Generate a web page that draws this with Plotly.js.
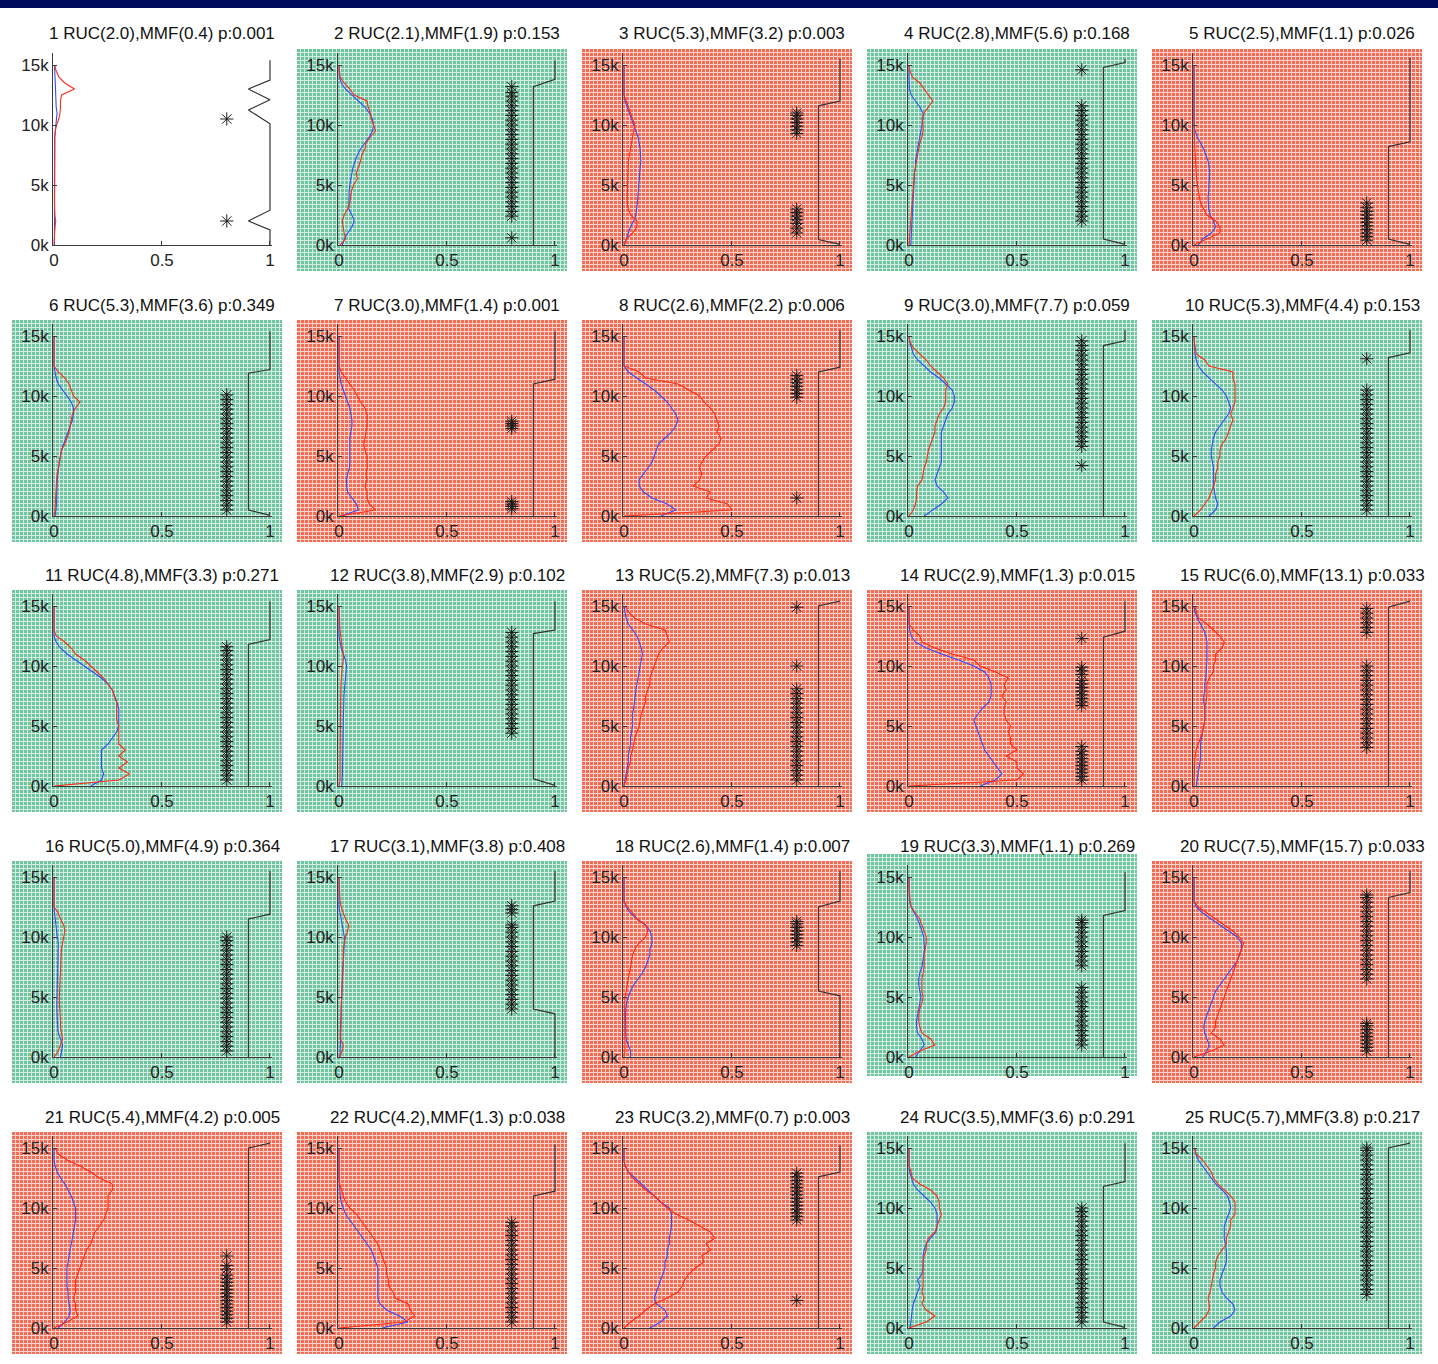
<!DOCTYPE html>
<html><head><meta charset="utf-8">
<script src="https://cdn.plot.ly/plotly-3.0.1.min.js"></script>
<style>html,body{margin:0;padding:0;background:#fff}#chart{width:1438px;height:1364px}</style>
</head><body><div id="chart"></div><script>
// ---------- data ----------
const Y = [0,0.5,1,1.5,2,2.5,3,3.5,4,4.5,5,5.5,6,6.5,7,7.5,8,8.5,9,9.5,10,10.5,11,11.5,12,12.5,13,13.5,14,14.5,15];
const ruc = [2.0,2.1,5.3,2.8,2.5,5.3,3.0,2.6,3.0,5.3,4.8,3.8,5.2,2.9,6.0,5.0,3.1,2.6,3.3,7.5,5.4,4.2,3.2,3.5,5.7];
const mmf = [0.4,1.9,3.2,5.6,1.1,3.6,1.4,2.2,7.7,4.4,3.3,2.9,7.3,1.3,13.1,4.9,3.8,1.4,1.1,15.7,4.2,1.3,0.7,3.6,3.8];
const pval = [0.001,0.153,0.003,0.168,0.026,0.349,0.001,0.006,0.059,0.153,0.271,0.102,0.013,0.015,0.033,0.364,0.408,0.007,0.269,0.033,0.005,0.038,0.003,0.291,0.217];
const bgKind = ['none','green','red','green','red','green','red','red','green','green','green','green','red','red','red','green','green','red','green','red','red','red','red','green','green'];
const xTickVals = [0,0.5,1], xTickText = ['0','0.5','1'];
const yTickVals = [0,5,10,15], yTickText = ['0k','5k','10k','15k'];

const RED = [
 [0,0.003,0.003,0.005,0.008,0.004,0.002,0.002,0.002,0.002,0.002,0.002,0.002,0.002,0.002,0.002,0.002,0.002,0.003,0.006,0.012,0.022,0.028,0.03,0.03,0.035,0.095,0.05,0.022,0.01,0.003],
 [0.005,0.03,0.024,0.02,0.015,0.024,0.04,0.05,0.055,0.058,0.067,0.085,0.08,0.09,0.1,0.105,0.12,0.125,0.145,0.17,0.16,0.15,0.145,0.135,0.13,0.07,0.05,0.024,0.005,0.003,0],
 [0,0.01,0.04,0.06,0.06,0.03,0.02,0.015,0.015,0.015,0.018,0.018,0.018,0.02,0.02,0.025,0.03,0.035,0.04,0.045,0.05,0.04,0.03,0.02,0.01,0,0,0,0,0,0],
 [0,0.003,0.005,0.006,0.008,0.01,0.012,0.015,0.018,0.02,0.02,0.022,0.025,0.03,0.035,0.04,0.045,0.05,0.06,0.065,0.065,0.06,0.07,0.09,0.11,0.09,0.07,0.05,0.015,0.005,0],
 [0,0.06,0.12,0.12,0.1,0.06,0.045,0.03,0.025,0.02,0.015,0.012,0.01,0.008,0.007,0.006,0.005,0.003,0.002,0,0,0,0,0,0,0,0,0,0,0,0],
 [0,0.005,0.006,0.007,0.008,0.01,0.012,0.015,0.02,0.025,0.03,0.035,0.05,0.06,0.07,0.075,0.08,0.085,0.1,0.12,0.09,0.08,0.07,0.05,0.02,0,0,0,0,0,0],
 [0,0.17,0.14,0.13,0.13,0.12,0.13,0.125,0.13,0.13,0.13,0.12,0.115,0.12,0.125,0.13,0.13,0.13,0.12,0.1,0.085,0.07,0.05,0.03,0.01,0,0,0,0,0,0],
 [0,0.5,0.48,0.38,0.4,0.32,0.35,0.36,0.35,0.36,0.38,0.41,0.44,0.45,0.43,0.44,0.43,0.42,0.4,0.37,0.35,0.3,0.25,0.1,0.07,0,0,0,0,0,0],
 [0,0.02,0.03,0.035,0.035,0.04,0.06,0.065,0.07,0.08,0.085,0.09,0.1,0.11,0.12,0.12,0.13,0.14,0.16,0.17,0.17,0.17,0.18,0.16,0.13,0.1,0.08,0.05,0.02,0.005,0],
 [0,0.03,0.05,0.07,0.08,0.09,0.1,0.1,0.11,0.11,0.12,0.12,0.13,0.15,0.16,0.17,0.18,0.17,0.18,0.19,0.19,0.19,0.19,0.18,0.18,0.07,0.05,0.01,0.005,0.002,0],
 [0,0.3,0.35,0.3,0.34,0.3,0.33,0.3,0.3,0.3,0.3,0.29,0.29,0.29,0.29,0.28,0.27,0.25,0.23,0.2,0.17,0.14,0.1,0.08,0.05,0.01,0,0,0,0,0],
 [0,0.005,0.005,0.005,0.005,0.006,0.006,0.006,0.007,0.007,0.007,0.007,0.008,0.008,0.008,0.008,0.008,0.009,0.01,0.012,0.015,0.02,0.02,0.015,0.01,0.008,0.005,0.004,0.003,0.001,0],
 [0,0.01,0.015,0.02,0.03,0.03,0.04,0.045,0.05,0.06,0.07,0.075,0.08,0.09,0.1,0.1,0.11,0.12,0.12,0.13,0.14,0.15,0.16,0.18,0.21,0.2,0.19,0.1,0.05,0.02,0.005],
 [0,0.5,0.53,0.5,0.5,0.45,0.5,0.47,0.47,0.46,0.47,0.45,0.44,0.44,0.45,0.43,0.45,0.44,0.46,0.4,0.33,0.3,0.2,0.12,0.06,0.05,0.02,0,0,0,0],
 [0,0.002,0.002,0.002,0.003,0.005,0.01,0.02,0.03,0.04,0.045,0.05,0.05,0.05,0.055,0.06,0.06,0.06,0.07,0.09,0.09,0.1,0.1,0.13,0.14,0.12,0.09,0.06,0.02,0.01,0.003],
 [0,0.02,0.03,0.04,0.035,0.03,0.03,0.028,0.025,0.025,0.025,0.025,0.025,0.028,0.03,0.03,0.03,0.033,0.035,0.04,0.045,0.05,0.045,0.03,0.02,0,0,0,0,0,0],
 [0,0.015,0.02,0.006,0.006,0.007,0.008,0.009,0.01,0.01,0.01,0.011,0.012,0.013,0.015,0.017,0.02,0.02,0.02,0.025,0.03,0.04,0.045,0.03,0.02,0.01,0.005,0.004,0.003,0.001,0],
 [0,0.005,0.005,0.004,0.003,0.003,0.003,0.003,0.003,0.004,0.005,0.01,0.015,0.02,0.025,0.03,0.035,0.04,0.05,0.07,0.1,0.11,0.1,0.06,0.04,0.015,0,0,0,0,0],
 [0,0.05,0.12,0.1,0.06,0.05,0.045,0.045,0.05,0.06,0.065,0.06,0.06,0.06,0.065,0.07,0.07,0.07,0.075,0.08,0.08,0.07,0.06,0.05,0.03,0.01,0.005,0.003,0,0,0],
 [0,0.08,0.14,0.12,0.08,0.1,0.1,0.11,0.12,0.13,0.14,0.15,0.16,0.17,0.18,0.19,0.2,0.21,0.22,0.23,0.21,0.18,0.14,0.1,0.06,0.02,0,0,0,0,0],
 [0,0.06,0.11,0.1,0.1,0.09,0.1,0.1,0.1,0.11,0.12,0.13,0.14,0.15,0.17,0.18,0.19,0.21,0.23,0.24,0.25,0.25,0.25,0.27,0.27,0.21,0.17,0.12,0.06,0.02,0.005],
 [0,0.3,0.35,0.33,0.32,0.26,0.25,0.23,0.23,0.22,0.22,0.21,0.2,0.19,0.18,0.16,0.14,0.12,0.1,0.08,0.05,0.03,0.02,0.01,0.003,0,0,0,0,0,0],
 [0,0.03,0.07,0.1,0.14,0.2,0.25,0.27,0.28,0.3,0.33,0.37,0.36,0.4,0.38,0.42,0.4,0.35,0.3,0.24,0.2,0.17,0.14,0.1,0.07,0.04,0.02,0.005,0,0,0],
 [0,0.08,0.12,0.08,0.06,0.07,0.06,0.065,0.065,0.065,0.065,0.065,0.07,0.08,0.08,0.09,0.12,0.13,0.14,0.15,0.14,0.14,0.13,0.1,0.05,0.015,0.01,0,0,0,0],
 [0,0.03,0.055,0.07,0.07,0.065,0.075,0.08,0.085,0.09,0.1,0.1,0.11,0.13,0.15,0.15,0.16,0.17,0.17,0.19,0.19,0.19,0.17,0.14,0.11,0.09,0.08,0.06,0.04,0.01,0.003]
];

const BLUE = [
 [0.002,0.002,0.003,0.003,0.005,0.003,0.002,0.002,0.002,0.002,0.002,0.002,0.002,0.002,0.002,0.002,0.002,0.002,0.004,0.006,0.008,0.012,0.014,0.01,0.008,0.008,0.007,0.006,0.005,0.004,0.002],
 [0.015,0.025,0.04,0.06,0.07,0.06,0.045,0.045,0.047,0.047,0.05,0.055,0.06,0.065,0.075,0.085,0.1,0.12,0.14,0.155,0.16,0.155,0.14,0.12,0.09,0.06,0.03,0.01,0.003,0,0],
 [0.002,0.01,0.02,0.03,0.045,0.055,0.06,0.062,0.064,0.066,0.068,0.068,0.07,0.075,0.078,0.078,0.075,0.07,0.065,0.055,0.045,0.035,0.025,0.015,0.005,0,0,0,0,0,0],
 [0.008,0.01,0.012,0.013,0.015,0.016,0.017,0.018,0.02,0.02,0.025,0.025,0.025,0.03,0.03,0.035,0.04,0.045,0.05,0.055,0.06,0.065,0.065,0.05,0.03,0.01,0.002,0,0,0,0],
 [0.02,0.04,0.08,0.1,0.09,0.075,0.068,0.065,0.065,0.068,0.07,0.072,0.072,0.07,0.065,0.055,0.045,0.03,0.015,0.005,0,0,0,0,0,0,0,0,0,0,0],
 [0.005,0.01,0.012,0.012,0.012,0.013,0.015,0.018,0.02,0.025,0.03,0.035,0.045,0.055,0.065,0.075,0.085,0.09,0.09,0.08,0.06,0.04,0.02,0.01,0.005,0,0,0,0,0,0],
 [0.01,0.09,0.08,0.06,0.04,0.035,0.035,0.04,0.048,0.05,0.05,0.05,0.048,0.05,0.055,0.06,0.06,0.055,0.05,0.04,0.03,0.02,0.01,0.005,0,0,0,0,0,0,0],
 [0.17,0.24,0.2,0.13,0.09,0.07,0.07,0.09,0.11,0.13,0.14,0.15,0.16,0.19,0.22,0.24,0.25,0.24,0.22,0.2,0.17,0.14,0.1,0.06,0.02,0,0,0,0,0,0],
 [0.07,0.11,0.15,0.18,0.16,0.13,0.12,0.13,0.14,0.15,0.15,0.15,0.15,0.15,0.15,0.16,0.17,0.18,0.2,0.21,0.21,0.2,0.17,0.14,0.1,0.07,0.04,0.02,0.01,0.003,0],
 [0.07,0.1,0.11,0.1,0.095,0.09,0.09,0.09,0.09,0.085,0.08,0.08,0.085,0.09,0.1,0.12,0.14,0.16,0.17,0.16,0.15,0.13,0.1,0.07,0.04,0.02,0.01,0.005,0.003,0,0],
 [0.17,0.22,0.23,0.22,0.22,0.22,0.22,0.25,0.27,0.29,0.3,0.3,0.3,0.3,0.29,0.28,0.27,0.25,0.22,0.18,0.14,0.1,0.06,0.03,0.01,0,0,0,0,0,0],
 [0.012,0.015,0.016,0.016,0.017,0.017,0.018,0.018,0.018,0.019,0.02,0.02,0.02,0.021,0.022,0.023,0.025,0.028,0.03,0.035,0.035,0.03,0.02,0.01,0.005,0,0,0,0,0,0],
 [0,0.005,0.01,0.015,0.02,0.02,0.025,0.03,0.03,0.035,0.04,0.04,0.04,0.045,0.048,0.05,0.055,0.06,0.065,0.07,0.075,0.08,0.085,0.08,0.07,0.06,0.04,0.02,0.01,0.005,0],
 [0.33,0.4,0.43,0.41,0.39,0.37,0.35,0.34,0.33,0.32,0.31,0.3,0.32,0.34,0.37,0.38,0.38,0.38,0.37,0.35,0.3,0.23,0.15,0.08,0.03,0.01,0.003,0,0,0,0],
 [0.01,0.015,0.02,0.025,0.028,0.03,0.03,0.03,0.035,0.04,0.045,0.05,0.05,0.05,0.045,0.045,0.05,0.05,0.055,0.055,0.058,0.06,0.06,0.06,0.06,0.055,0.045,0.03,0.015,0.005,0],
 [0.03,0.035,0.04,0.03,0.02,0.017,0.015,0.014,0.013,0.013,0.013,0.014,0.015,0.016,0.017,0.018,0.018,0.019,0.02,0.02,0.015,0.012,0.008,0.005,0.003,0,0,0,0,0,0],
 [0.005,0.006,0.008,0.008,0.008,0.009,0.01,0.01,0.01,0.011,0.012,0.013,0.014,0.015,0.017,0.018,0.02,0.022,0.023,0.025,0.025,0.02,0.015,0.01,0.003,0,0,0,0,0,0],
 [0.03,0.03,0.02,0.01,0.008,0.007,0.006,0.007,0.008,0.012,0.02,0.03,0.045,0.065,0.085,0.1,0.11,0.12,0.12,0.13,0.13,0.12,0.1,0.06,0.03,0.01,0,0,0,0,0],
 [0.03,0.05,0.07,0.06,0.04,0.035,0.035,0.04,0.045,0.05,0.055,0.05,0.045,0.045,0.05,0.06,0.065,0.07,0.072,0.07,0.068,0.06,0.05,0.04,0.025,0.01,0.003,0,0,0,0],
 [0.04,0.06,0.07,0.06,0.05,0.045,0.05,0.06,0.07,0.08,0.09,0.1,0.12,0.14,0.16,0.18,0.2,0.21,0.22,0.22,0.2,0.16,0.12,0.08,0.04,0.01,0,0,0,0,0],
 [0.02,0.05,0.07,0.075,0.07,0.065,0.065,0.06,0.06,0.06,0.06,0.065,0.07,0.075,0.08,0.085,0.09,0.095,0.1,0.1,0.1,0.09,0.08,0.065,0.05,0.03,0.015,0.005,0,0,0],
 [0.2,0.32,0.28,0.22,0.19,0.18,0.18,0.18,0.18,0.18,0.18,0.17,0.16,0.15,0.13,0.11,0.09,0.07,0.05,0.03,0.02,0.01,0.006,0.003,0,0,0,0,0,0,0],
 [0.12,0.17,0.2,0.19,0.15,0.14,0.15,0.16,0.17,0.18,0.19,0.19,0.2,0.2,0.21,0.21,0.215,0.22,0.22,0.22,0.21,0.17,0.14,0.11,0.08,0.05,0.02,0.005,0,0,0],
 [0.005,0.008,0.01,0.015,0.02,0.03,0.04,0.05,0.04,0.06,0.065,0.065,0.065,0.07,0.08,0.1,0.125,0.13,0.13,0.13,0.12,0.1,0.07,0.04,0.02,0.01,0.003,0,0,0,0],
 [0.09,0.12,0.17,0.19,0.18,0.15,0.13,0.12,0.12,0.13,0.14,0.15,0.15,0.15,0.145,0.14,0.14,0.14,0.15,0.16,0.17,0.165,0.155,0.13,0.1,0.08,0.06,0.04,0.02,0.008,0.003]
];

const STARS = [
 [2.0,10.5],
 [0.6,2.4,2.8,3.2,3.6,4.0,4.4,4.8,5.2,5.6,6.0,6.4,6.8,7.2,7.6,8.0,8.4,8.8,9.2,9.6,10.0,10.4,10.8,11.2,11.6,12.0,12.4,12.7,13.2],
 [1.0,1.4,1.8,2.1,2.4,2.7,3.0,9.3,9.6,9.9,10.2,10.5,10.8,11.0],
 [2.0,2.4,2.8,3.2,3.6,4.0,4.4,4.8,5.2,5.6,6.0,6.4,6.8,7.2,7.6,8.0,8.4,8.8,9.2,9.6,10.0,10.4,10.8,11.2,11.6,14.6],
 [0.4,0.7,1.0,1.3,1.6,1.9,2.2,2.5,2.8,3.1,3.5],
 [0.5,0.9,1.3,1.7,2.1,2.5,2.9,3.3,3.7,4.1,4.5,4.9,5.3,5.7,6.1,6.5,6.9,7.3,7.7,8.1,8.5,8.9,9.3,9.7,10.1],
 [0.6,0.8,1.0,1.2,7.3,7.5,7.7,7.9],
 [1.5,9.9,10.2,10.5,10.8,11.1,11.4,11.7],
 [4.2,5.8,6.2,6.6,7.0,7.4,7.8,8.2,8.6,9.0,9.4,9.8,10.2,10.6,11.0,11.4,11.8,12.2,12.6,13.0,13.4,13.8,14.2,14.6],
 [0.5,0.9,1.3,1.7,2.1,2.5,2.9,3.3,3.7,4.1,4.5,4.9,5.3,5.7,6.1,6.5,6.9,7.3,7.7,8.1,8.5,8.9,9.3,9.7,10.1,10.5,13.1],
 [0.5,0.9,1.3,1.7,2.1,2.5,2.9,3.3,3.7,4.1,4.5,4.9,5.3,5.7,6.1,6.5,6.9,7.3,7.7,8.1,8.5,8.9,9.3,9.7,10.1,10.5,10.9,11.3,11.6],
 [4.4,4.8,5.2,5.6,6.0,6.4,6.8,7.2,7.6,8.0,8.4,8.8,9.2,9.6,10.0,10.4,10.8,11.2,11.6,12.0,12.4,12.8],
 [0.5,0.9,1.3,1.7,2.1,2.5,2.9,3.3,3.7,4.1,4.5,4.9,5.3,5.7,6.1,6.5,6.9,7.3,7.7,8.1,10.0,14.9],
 [0.5,0.8,1.1,1.4,1.7,2.0,2.3,2.6,2.9,3.3,6.7,7.0,7.3,7.6,7.9,8.2,8.5,8.8,9.3,9.6,9.9,12.3],
 [3.2,3.6,4.0,4.4,4.8,5.2,5.6,6.0,6.4,6.8,7.2,7.6,8.0,8.4,8.8,9.2,9.6,10.0,12.8,13.2,13.6,14.0,14.4,14.8],
 [0.5,0.9,1.3,1.7,2.1,2.5,2.9,3.3,3.7,4.1,4.5,4.9,5.3,5.7,6.1,6.5,6.9,7.3,7.7,8.1,8.5,8.9,9.3,9.7,10.0],
 [4.0,4.4,4.8,5.2,5.6,6.0,6.4,6.8,7.2,7.6,8.0,8.4,8.8,9.2,9.6,10.0,10.4,10.8,11.0,12.0,12.3,12.6],
 [9.3,9.6,9.9,10.2,10.5,10.8,11.1,11.3],
 [1.0,1.4,1.8,2.2,2.6,3.0,3.4,3.8,4.2,4.6,5.0,5.4,5.8,7.6,8.0,8.4,8.8,9.2,9.6,10.0,10.4,10.8,11.2,11.4],
 [0.5,0.8,1.1,1.4,1.7,2.0,2.3,2.6,2.8,6.5,6.9,7.3,7.7,8.1,8.5,8.9,9.3,9.7,10.1,10.5,10.9,11.3,11.7,12.1,12.5,12.9,13.3,13.5],
 [0.5,0.8,1.1,1.4,1.7,2.0,2.3,2.6,2.9,3.2,3.5,3.8,4.1,4.4,4.9,5.2,6.0],
 [0.5,0.9,1.3,1.7,2.1,2.5,2.9,3.3,3.7,4.1,4.5,4.9,5.3,5.7,6.1,6.5,6.9,7.3,7.7,8.1,8.5,8.8],
 [2.3,9.0,9.3,9.6,9.9,10.2,10.5,10.8,11.1,11.4,11.7,12.0,12.3,12.6,12.9],
 [0.5,0.9,1.3,1.7,2.1,2.5,2.9,3.3,3.7,4.1,4.5,4.9,5.3,5.7,6.1,6.5,6.9,7.3,7.7,8.1,8.5,8.9,9.3,9.7,10.0],
 [2.8,3.2,3.6,4.0,4.4,4.8,5.2,5.6,6.0,6.4,6.8,7.2,7.6,8.0,8.4,8.8,9.2,9.6,10.0,10.4,10.8,11.2,11.6,12.0,12.4,12.8,13.2,13.6,14.0,14.4,14.8,15.0]
];
const STAR_X = 0.8;

const STEP_X = [
 [1,1,0.9,1,0.9,1,1,0.9,1,1],
 [1,1,0.9,0.9],
 [1,1,0.9,0.9,1],
 [1,1,0.9,0.9,1],
 [1,1,0.9,0.9,1],
 [1,1,0.9,0.9,1],
 [1,1,0.9,0.9],
 [1,1,0.9,0.9],
 [1,1,0.9,0.9],
 [1,1,0.9,0.9],
 [1,1,0.9,0.9],
 [1,1,0.9,0.9,1],
 [1,0.9,0.9],
 [1,1,0.9,0.9],
 [1,0.9,0.9],
 [1,1,0.9,0.9],
 [1,1,0.9,0.9,1,1],
 [1,1,0.9,0.9,1,1],
 [1,1,0.9,0.9],
 [1,1,0.9,0.9],
 [1,0.9,0.9],
 [1,1,0.9,0.9],
 [1,1,0.9,0.9],
 [1,1,0.9,0.9,1],
 [1,0.9,0.9]
];
const STEP_Y = [
 [15.4,13.75,13.0,12.1,11.25,10.1,2.9,2.0,1.25,0],
 [15.4,13.8,13.2,0],
 [15.5,12.0,11.6,0.45,0.05],
 [15.5,15.2,14.8,0.5,0.05],
 [15.6,8.6,8.2,0.5,0.05],
 [15.4,12.2,11.9,0.5,0.05],
 [15.4,11.4,11.0,0],
 [15.5,12.4,12.0,0],
 [15.5,14.6,14.2,0],
 [15.5,13.6,13.2,0],
 [15.4,12.2,11.8,0],
 [15.4,13.0,12.7,0.6,0.05],
 [15.4,15.0,0],
 [15.4,12.9,12.4,0],
 [15.4,14.9,0],
 [15.5,11.9,11.5,0],
 [15.5,13.0,12.6,4.0,3.6,0],
 [15.5,13.0,12.5,5.5,5.1,0],
 [15.4,12.2,11.8,0],
 [15.5,13.7,13.3,0],
 [15.4,15.0,0],
 [15.3,11.4,11.0,0],
 [15.2,13.0,12.6,0],
 [15.4,12.2,11.8,0.5,0.05],
 [15.4,15.0,0]
];

// ---------- geometry / styling ----------
const W = 1438, H = 1364;
const colX0 = [54,339,624,909,1194];
const rowY0 = [245,516,786,1057,1328];
const PXU = 216, PXK = 12;
const XR = [-0.004, 1.008], YR = [0, 16];
const BGW = 270, BGH = 222;
const CELL = {green:'rgb(112,196,160)', red:'rgb(245,108,84)'};
const FONT = '"Liberation Sans", Arial, Helvetica, sans-serif';

function patternSrc(kind) {
  const svg = "<svg xmlns='http://www.w3.org/2000/svg' width='" + BGW + "' height='" + BGH + "'>" +
    "<defs><pattern id='p' width='4' height='4' patternUnits='userSpaceOnUse'>" +
    "<rect width='4' height='4' fill='" + CELL[kind] + "'/>" +
    "<rect x='3' y='0' width='1' height='4' fill='#ffffff' fill-opacity='0.7'/>" +
    "<rect x='0' y='3' width='3' height='1' fill='#ffffff' fill-opacity='0.7'/>" +
    "</pattern></defs><rect width='" + BGW + "' height='" + BGH + "' fill='url(#p)'/></svg>";
  return 'data:image/svg+xml;base64,' + btoa(svg);
}
const SRC = {green: patternSrc('green'), red: patternSrc('red')};

const traces = [];
const layout = {
  width: W, height: H,
  margin: {l:0, r:0, t:0, b:0},
  paper_bgcolor: '#ffffff',
  plot_bgcolor: 'rgba(0,0,0,0)',
  showlegend: false,
  font: {family: FONT, size: 17, color: '#222'},
  shapes: [], annotations: [], images: []
};

layout.shapes.push({type:'rect', xref:'paper', yref:'paper', x0:0, x1:1, y0:1-8/H, y1:1, fillcolor:'#000b5e', line:{width:0}, layer:'above'});

for (let i = 0; i < 25; i++) {
  const r = Math.floor(i/5), c = i % 5, n = i+1;
  const xs = n === 1 ? '' : String(n);
  const x0 = colX0[c], y0 = rowY0[r];
  const xd = [(x0 + XR[0]*PXU)/W, (x0 + XR[1]*PXU)/W];
  const yd = [1 - y0/H, 1 - (y0 - YR[1]*PXK)/H];
  const axStyle = {showline:true, linecolor:'#3a3a3a', linewidth:1, ticks:'inside', ticklen:4, tickcolor:'#3a3a3a',
    showgrid:false, zeroline:false, fixedrange:true, tickfont:{family:FONT, size:17, color:'#222'}};
  layout['xaxis'+xs] = Object.assign({}, axStyle, {domain:xd, range:XR, anchor:'y'+xs, tickmode:'array', tickvals:xTickVals, ticktext:xTickText});
  layout['yaxis'+xs] = Object.assign({}, axStyle, {domain:yd, range:YR, anchor:'x'+xs, tickmode:'array', tickvals:yTickVals, ticktext:yTickText});

  if (bgKind[i] !== 'none') {
    const dy = (n === 19) ? -7 : 0;
    const top = y0 - 196 + dy;
    layout.images.push({source: SRC[bgKind[i]], xref:'paper', yref:'paper', layer:'below',
      x:(x0-42)/W, y:1-top/H, sizex:BGW/W, sizey:BGH/H, xanchor:'left', yanchor:'top', sizing:'stretch'});
  }
  layout.annotations.push({xref:'paper', yref:'paper', x:(x0+108)/W, y:1-(y0-211)/H, xanchor:'center', yanchor:'middle',
    showarrow:false, text: n + ' RUC(' + ruc[i].toFixed(1) + '),MMF(' + mmf[i].toFixed(1) + ') p:' + pval[i].toFixed(3),
    font:{family:FONT, size:17, color:'#111'}});

  const ax = {xaxis:'x'+xs, yaxis:'y'+xs};
  traces.push(Object.assign({type:'scatter', mode:'lines', x:BLUE[i], y:Y, line:{color:'#2f4dff', width:1.1}, hoverinfo:'skip'}, ax));
  traces.push(Object.assign({type:'scatter', mode:'lines', x:RED[i], y:Y, line:{color:'#ff2a14', width:1.1}, hoverinfo:'skip'}, ax));
  traces.push(Object.assign({type:'scatter', mode:'markers', x:STARS[i].map(() => STAR_X), y:STARS[i],
    marker:{symbol:'asterisk-open', size:11, color:'#1a1a1a', line:{color:'#1a1a1a', width:1}}, hoverinfo:'skip'}, ax));
  traces.push(Object.assign({type:'scatter', mode:'lines', x:STEP_X[i], y:STEP_Y[i], line:{color:'#333', width:1.2}, hoverinfo:'skip'}, ax));
}

Plotly.newPlot('chart', traces, layout, {staticPlot:true, displayModeBar:false});
</script></body></html>
